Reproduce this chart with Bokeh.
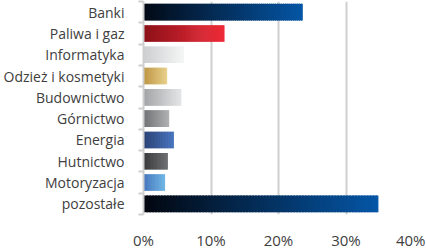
import numpy as np
from bokeh.plotting import figure
from bokeh.models import Range1d, FixedTicker, ColumnDataSource
from bokeh.embed import file_html
from bokeh.resources import INLINE

categories = ["Banki", "Paliwa i gaz", "Informatyka", "Odzież i kosmetyki", "Budownictwo",
              "Górnictwo", "Energia", "Hutnictwo", "Motoryzacja", "pozostałe"]
values = [23.6, 12.0, 6.0, 3.5, 5.6, 3.8, 4.5, 3.6, 3.2, 34.8]
x_ticks = [0, 10, 20, 30, 40]
x_tick_labels = ["0%", "10%", "20%", "30%", "40%"]

grad_start = ["#030a16", "#8c1119", "#c9cbcd", "#b5862a", "#9a9c9e",
              "#5d5f61", "#132c65", "#1f2021", "#2c62b3", "#030710"]
grad_end = ["#0556a5", "#ef2b38", "#f4f5f5", "#e5ca7b", "#e1e3e4",
            "#a5a7a8", "#3466b8", "#5a5d5f", "#5bade2", "#0556a6"]

FONT = "Open Sans"
TXT = "#404040"
GRID = "#cfcfcf"


def hex2rgb(h):
    h = h.lstrip("#")
    return np.array([int(h[i:i + 2], 16) for i in (0, 2, 4)], dtype=float)


p = figure(frame_width=270, frame_height=213, output_backend="svg", toolbar_location=None,
           x_range=Range1d(0, 40), y_range=Range1d(len(categories), 0),
           min_border_left=136, min_border_right=12, min_border_top=1, min_border_bottom=0)

# gradient bars built from slices
N = 80
ys, lefts, rights, colors = [], [], [], []
for i, (cat, v) in enumerate(zip(categories, values)):
    c0, c1 = hex2rgb(grad_start[i]), hex2rgb(grad_end[i])
    step = v / N
    for k in range(N):
        t = k / (N - 1)
        c = (1 - t) * c0 + t * c1
        ys.append(i + 0.5)
        lefts.append(k * step)
        rights.append(min(v, (k + 1.6) * step))
        colors.append("#%02x%02x%02x" % tuple(int(round(x)) for x in c))

src = ColumnDataSource(dict(y=ys, left=lefts, right=rights, color=colors))
p.hbar(y="y", left="left", right="right", height=0.78, fill_color="color",
       line_color=None, source=src)

# y axis
yax = p.yaxis[0]
yax.ticker = FixedTicker(ticks=[i + 0.5 for i in range(len(categories))],
                         minor_ticks=list(range(len(categories) + 1)))
yax.major_label_overrides = {i + 0.5: c for i, c in enumerate(categories)}
yax.major_tick_in = 0
yax.major_tick_out = 0
yax.minor_tick_in = 0
yax.minor_tick_out = 5
yax.minor_tick_line_color = GRID
yax.minor_tick_line_width = 2
yax.axis_line_color = GRID
yax.axis_line_width = 2
yax.major_label_standoff = 14
yax.major_label_text_font = FONT
yax.major_label_text_font_size = "14px"
yax.major_label_text_color = TXT

# x axis
xax = p.xaxis[0]
xax.ticker = FixedTicker(ticks=x_ticks)
xax.major_label_overrides = {t: l for t, l in zip(x_ticks, x_tick_labels)}
xax.axis_line_color = None
xax.major_tick_line_color = None
xax.minor_tick_line_color = None
xax.major_label_standoff = 9
xax.major_label_text_font = FONT
xax.major_label_text_font_size = "15px"
xax.major_label_text_color = TXT

p.xgrid.ticker = FixedTicker(ticks=[t for t in x_ticks if t > 0])
p.xgrid.grid_line_color = GRID
p.xgrid.grid_line_width = 2
p.ygrid.grid_line_color = None
p.outline_line_color = None

open("out.html", "w").write(file_html(p, INLINE))
